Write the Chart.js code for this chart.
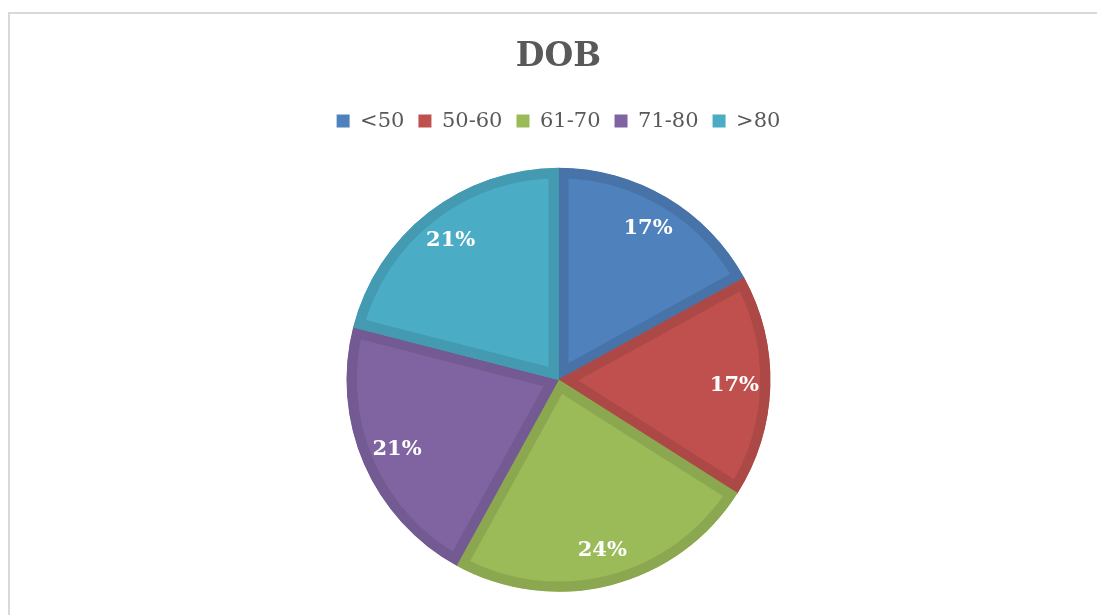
<!DOCTYPE html>
<html>
<head>
<meta charset="utf-8">
<script src="https://cdn.jsdelivr.net/npm/chart.js@4/dist/chart.umd.min.js"></script>
<style>
  html, body { margin: 0; padding: 0; background: #fff; overflow: hidden; width: 1097px; height: 615px; }
  #frame { position: absolute; left: 8px; top: 12px; width: 1100px; height: 620px; border: 2px solid #d9d9d9; box-sizing: border-box; }
  #wrap { position: absolute; left: 0; top: 0; width: 1097px; height: 618px; }
</style>
</head>
<body>
<div id="frame"></div>
<div id="wrap"><canvas id="chart"></canvas></div>
<script>
// Age bands (date of birth) and their share of the total
const ageGroups = ['<50', '50-60', '61-70', '71-80', '>80'];
const sharePercent = [17, 17, 24, 21, 21];
const fillColors = ['#4F81BD', '#C0504D', '#9BBB59', '#8064A2', '#4BACC6'];
const edgeColors = ['#4773A9', '#AC4845', '#8BA850', '#735A92', '#449AB1'];

// white percentage labels placed inside each slice
const sliceLabels = {
  id: 'sliceLabels',
  afterDatasetsDraw(chart) {
    const ctx = chart.ctx;
    const meta = chart.getDatasetMeta(0);
    ctx.save();
    ctx.font = 'bold 21px "DejaVu Serif"';
    ctx.fillStyle = '#ffffff';
    ctx.textAlign = 'center';
    ctx.textBaseline = 'middle';
    meta.data.forEach((arc, i) => {
      const p = arc.getProps(['x', 'y', 'startAngle', 'endAngle', 'outerRadius']);
      const mid = (p.startAngle + p.endAngle) / 2;
      const r = p.outerRadius * 0.83;
      ctx.fillText(sharePercent[i] + '%', p.x + Math.cos(mid) * r, p.y + Math.sin(mid) * r);
    });
    ctx.restore();
  },
};

const baseLabels = Chart.overrides.doughnut.plugins.legend.labels.generateLabels;

new Chart(document.getElementById('chart'), {
  type: 'pie',
  data: {
    labels: ageGroups,
    datasets: [{
      data: sharePercent,
      backgroundColor: fillColors,
      borderColor: edgeColors,
      borderWidth: 10,
      borderAlign: 'inner',
      hoverOffset: 0,
    }],
  },
  options: {
    responsive: true,
    maintainAspectRatio: false,
    devicePixelRatio: 1,
    animation: false,
    radius: 212,
    layout: { padding: { top: 26, left: 20, right: 0, bottom: 0 } },
    plugins: {
      title: {
        display: true,
        text: 'DOB',
        color: '#595959',
        font: { family: '"DejaVu Serif"', size: 33, weight: 'bold' },
        padding: { top: 12, bottom: 19 },
      },
      legend: {
        position: 'top',
        labels: {
          color: '#595959',
          font: { family: '"DejaVu Serif"', size: 21 },
          boxWidth: 13,
          boxHeight: 13,
          padding: 14,
          generateLabels(chart) {
            const items = baseLabels(chart);
            items.forEach((it) => { it.lineWidth = 0; });
            return items;
          },
        },
      },
      tooltip: { enabled: false },
    },
  },
  plugins: [sliceLabels],
});
</script>
</body>
</html>
